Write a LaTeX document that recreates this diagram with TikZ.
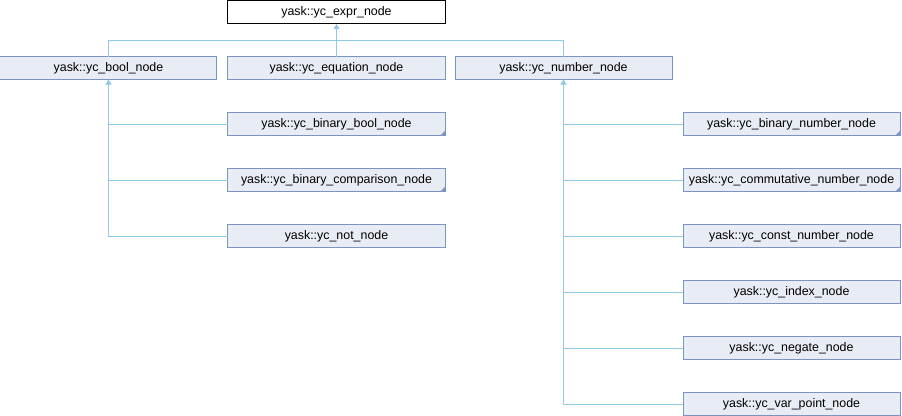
\documentclass[tikz,border=0pt]{standalone}
\usepackage{fontspec}
\setmainfont{Liberation Sans}
\usetikzlibrary{arrows.meta, positioning, calc}

\definecolor{boxfill}{HTML}{E8ECF4}
\definecolor{boxedge}{HTML}{7A94C8}
\definecolor{linkblue}{HTML}{90C8E8}

\begin{document}
\begin{tikzpicture}[
    node distance=24.75pt and 8.25pt,
    box/.style={rectangle, draw=boxedge, line width=0.75pt, fill=boxfill, minimum width=162.75pt, minimum height=17.25pt, inner sep=0pt, outer sep=0pt, font=\fontsize{9.3}{11}\selectfont},
    basebox/.style={box, draw=black, fill=white},
    morebox/.style={box, path picture={\fill[boxedge] (path picture bounding box.south east) -- ++(-3.5pt,0) -- ++(3.5pt,3.5pt) -- cycle;}},
    link/.style={draw=linkblue, line width=0.75pt},
    arrow/.style={link, -{Triangle[length=3.75pt, width=4.5pt]}}
]
\useasboundingbox (-252.375pt,9.375pt) rectangle (424.125pt,-302.625pt);

% 1. Base class
\node[basebox] (expr) {yask::yc\_expr\_node};

% 2. Direct subclasses
\node[box, below=24.4pt of expr] (equation) {yask::yc\_equation\_node};
\node[box, left=of equation] (bool) {yask::yc\_bool\_node};
\node[box, right=7.5pt of equation] (number) {yask::yc\_number\_node};

% 3. Bool subclasses
\node[morebox, below=of equation] (binbool) {yask::yc\_binary\_bool\_node};
\node[morebox, below=of binbool] (bincomp) {yask::yc\_binary\_comparison\_node};
\node[box, below=of bincomp] (notnode) {yask::yc\_not\_node};

% 4. Number subclasses
\node[morebox, below right=24.75pt and 8.25pt of number] (binnum) {yask::yc\_binary\_number\_node};
\node[morebox, below=of binnum] (commnum) {yask::yc\_commutative\_number\_node};
\node[box, below=of commnum] (constnum) {yask::yc\_const\_number\_node};
\node[box, below=of constnum] (index) {yask::yc\_index\_node};
\node[box, below=of index] (negate) {yask::yc\_negate\_node};
\node[box, below=of negate] (varpoint) {yask::yc\_var\_point\_node};

% 5. Connections to base class
\coordinate (joint) at ($(expr.south)!0.5!(equation.north)$);
\draw[link] (bool.north) |- (joint) -| (number.north);
\draw[link] (equation.north) -- (joint);
\draw[arrow] (joint) -- (expr.south);

% Bool branch
\draw[arrow] (notnode.west) -| (bool.south);
\draw[link] (binbool.west) -- (binbool.west -| bool.south);
\draw[link] (bincomp.west) -- (bincomp.west -| bool.south);

% Number branch
\draw[arrow] (varpoint.west) -| (number.south);
\draw[link] (binnum.west) -- (binnum.west -| number.south);
\draw[link] (commnum.west) -- (commnum.west -| number.south);
\draw[link] (constnum.west) -- (constnum.west -| number.south);
\draw[link] (index.west) -- (index.west -| number.south);
\draw[link] (negate.west) -- (negate.west -| number.south);

\end{tikzpicture}
\end{document}
